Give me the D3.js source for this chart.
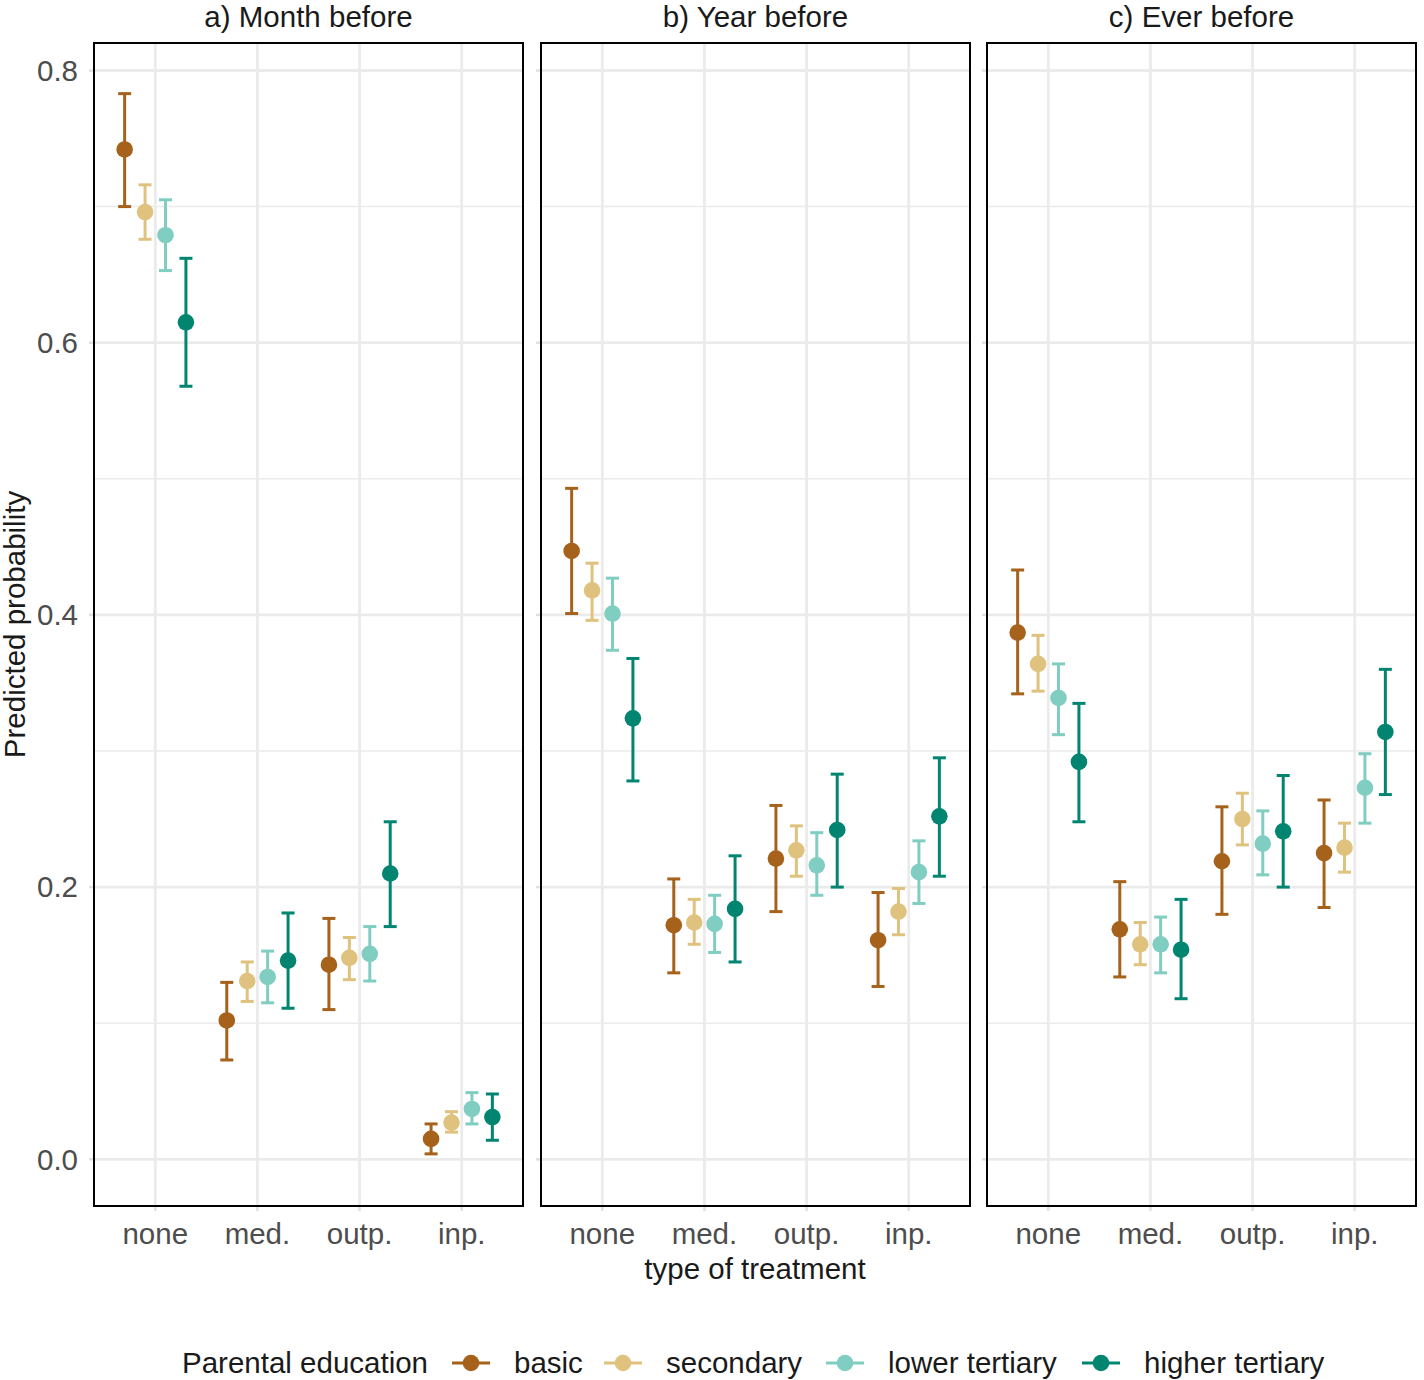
<!DOCTYPE html>
<html>
<head>
<meta charset="utf-8">
<script src="https://cdn.jsdelivr.net/npm/d3@7"></script>
<style>
  html, body { margin: 0; padding: 0; background: #ffffff; }
  svg text { font-family: "Liberation Sans", Arial, Helvetica, sans-serif; }
</style>
</head>
<body>
<svg id="chart" width="1424" height="1380"></svg>
<script>
// ---------------- data ----------------
const panelTitles = ["a) Month before", "b) Year before", "c) Ever before"];
const treatments = ["none", "med.", "outp.", "inp."];
const education = ["basic", "secondary", "lower tertiary", "higher tertiary"];
const eduColors = ["#A6611A", "#DFC27D", "#80CDC1", "#018571"];
const yTicks = [0.0, 0.2, 0.4, 0.6, 0.8];
const yMinorTicks = [0.1, 0.3, 0.5, 0.7];

// rows = education level, columns = treatment (none, med., outp., inp.)
const monthEst  = [[0.742, 0.102, 0.143, 0.015], [0.696, 0.131, 0.148, 0.027], [0.679, 0.134, 0.151, 0.037], [0.615, 0.146, 0.210, 0.031]];
const monthLow  = [[0.700, 0.073, 0.110, 0.004], [0.676, 0.116, 0.132, 0.020], [0.653, 0.115, 0.131, 0.026], [0.568, 0.111, 0.171, 0.014]];
const monthHigh = [[0.783, 0.130, 0.177, 0.026], [0.716, 0.145, 0.163, 0.035], [0.705, 0.153, 0.171, 0.049], [0.662, 0.181, 0.248, 0.048]];

const yearEst  = [[0.447, 0.172, 0.221, 0.161], [0.418, 0.174, 0.227, 0.182], [0.401, 0.173, 0.216, 0.211], [0.324, 0.184, 0.242, 0.252]];
const yearLow  = [[0.401, 0.137, 0.182, 0.127], [0.396, 0.158, 0.208, 0.165], [0.374, 0.152, 0.194, 0.188], [0.278, 0.145, 0.200, 0.208]];
const yearHigh = [[0.493, 0.206, 0.260, 0.196], [0.438, 0.191, 0.245, 0.199], [0.427, 0.194, 0.240, 0.234], [0.368, 0.223, 0.283, 0.295]];

const everEst  = [[0.387, 0.169, 0.219, 0.225], [0.364, 0.158, 0.250, 0.229], [0.339, 0.158, 0.232, 0.273], [0.292, 0.154, 0.241, 0.314]];
const everLow  = [[0.342, 0.134, 0.180, 0.185], [0.344, 0.143, 0.231, 0.211], [0.312, 0.137, 0.209, 0.247], [0.248, 0.118, 0.200, 0.268]];
const everHigh = [[0.433, 0.204, 0.259, 0.264], [0.385, 0.174, 0.269, 0.247], [0.364, 0.178, 0.256, 0.298], [0.335, 0.191, 0.282, 0.360]];

const panelEst  = [monthEst, yearEst, everEst];
const panelLow  = [monthLow, yearLow, everLow];
const panelHigh = [monthHigh, yearHigh, everHigh];

// ---------------- layout ----------------
const svg = d3.select("#chart");
const panelLefts = [94, 541, 987];
const panelWidth = 429;
const plotTop = 43, plotBottom = 1206;
const textColor = "#1A1A1A";
const tickTextColor = "#4D4D4D";
const gridColor = "#EBEBEB";
const fontSize = 29.5;
const barWidth = 3;
const pointR = 8.3;

const y = d3.scaleLinear().domain([-0.0343, 0.8202]).range([plotBottom, plotTop]);

panelTitles.forEach((title, p) => {
  const x0 = panelLefts[p], x1 = x0 + panelWidth;
  const x = d3.scalePoint().domain(treatments).range([x0, x1]).padding(0.6);
  const step = x.step();
  const dodge = d3.scaleBand().domain(education).range([-0.4 * step, 0.4 * step]);
  const g = svg.append("g");

  g.append("rect").attr("x", x0).attr("y", plotTop).attr("width", panelWidth).attr("height", plotBottom - plotTop).attr("fill", "#fff");

  // minor grid
  g.selectAll(".minor").data(yMinorTicks).enter().append("line")
    .attr("x1", x0).attr("x2", x1).attr("y1", d => y(d)).attr("y2", d => y(d))
    .attr("stroke", gridColor).attr("stroke-width", 1.5);
  // major grid
  g.selectAll(".major").data(yTicks).enter().append("line")
    .attr("x1", x0).attr("x2", x1).attr("y1", d => y(d)).attr("y2", d => y(d))
    .attr("stroke", gridColor).attr("stroke-width", 2.8);
  g.selectAll(".vgrid").data(treatments).enter().append("line")
    .attr("x1", d => x(d)).attr("x2", d => x(d)).attr("y1", plotTop).attr("y2", plotBottom)
    .attr("stroke", gridColor).attr("stroke-width", 2.8);

  // ticks (light)
  g.selectAll(".yt").data(yTicks).enter().append("line")
    .attr("x1", x0 - 5).attr("x2", x0).attr("y1", d => y(d)).attr("y2", d => y(d))
    .attr("stroke", "#E0E0E0").attr("stroke-width", 2.5);
  g.selectAll(".xt").data(treatments).enter().append("line")
    .attr("x1", d => x(d)).attr("x2", d => x(d)).attr("y1", plotBottom).attr("y2", plotBottom + 5)
    .attr("stroke", "#E0E0E0").attr("stroke-width", 2.5);

  // error bars & points
  const capHalf = 6.5;
  education.forEach((edu, e) => {
    const col = eduColors[e];
    treatments.forEach((t, k) => {
      const cx = x(t) + dodge(edu) + dodge.bandwidth() / 2;
      const lo = panelLow[p][e][k], hi = panelHigh[p][e][k];
      const eg = g.append("g").attr("stroke", col).attr("stroke-width", barWidth).attr("fill", "none");
      eg.append("line").attr("x1", cx).attr("x2", cx).attr("y1", y(lo)).attr("y2", y(hi));
      eg.append("line").attr("x1", cx - capHalf).attr("x2", cx + capHalf).attr("y1", y(lo)).attr("y2", y(lo));
      eg.append("line").attr("x1", cx - capHalf).attr("x2", cx + capHalf).attr("y1", y(hi)).attr("y2", y(hi));
    });
  });
  education.forEach((edu, e) => {
    const col = eduColors[e];
    treatments.forEach((t, k) => {
      const cx = x(t) + dodge(edu) + dodge.bandwidth() / 2;
      g.append("circle").attr("cx", cx).attr("cy", y(panelEst[p][e][k])).attr("r", pointR).attr("fill", col);
    });
  });

  // border
  g.append("rect").attr("x", x0).attr("y", plotTop).attr("width", panelWidth).attr("height", plotBottom - plotTop)
    .attr("fill", "none").attr("stroke", "#000").attr("stroke-width", 2);

  // strip title
  g.append("text").attr("x", (x0 + x1) / 2).attr("y", 27).attr("text-anchor", "middle")
    .attr("font-size", fontSize).attr("fill", textColor).text(title);

  // x tick labels
  g.selectAll(".xl").data(treatments).enter().append("text")
    .attr("x", d => x(d)).attr("y", 1244).attr("text-anchor", "middle")
    .attr("font-size", fontSize).attr("fill", tickTextColor).text(d => d);

  // y tick labels on first panel
  if (p === 0) {
    g.selectAll(".yl").data(yTicks).enter().append("text")
      .attr("x", 78).attr("y", d => y(d)).attr("dy", "0.35em").attr("text-anchor", "end")
      .attr("font-size", fontSize).attr("fill", tickTextColor).text(d => d3.format(".1f")(d));
  }
});

// axis titles
svg.append("text").attr("x", (panelLefts[0] + panelLefts[2] + panelWidth) / 2).attr("y", 1279)
  .attr("text-anchor", "middle").attr("font-size", fontSize).attr("fill", textColor).text("type of treatment");
svg.append("text").attr("transform", `translate(24.5, ${(plotTop + plotBottom) / 2}) rotate(-90)`)
  .attr("text-anchor", "middle").attr("font-size", fontSize).attr("fill", textColor).text("Predicted probability");

// legend
const legY = 1363;
svg.append("text").attr("x", 182).attr("y", legY).attr("dy", "0.35em")
  .attr("font-size", fontSize).attr("fill", textColor).text("Parental education");
const keyStarts = [452, 604, 826, 1082];
education.forEach((edu, e) => {
  const kx = keyStarts[e];
  svg.append("line").attr("x1", kx).attr("x2", kx + 38).attr("y1", legY).attr("y2", legY)
    .attr("stroke", eduColors[e]).attr("stroke-width", barWidth);
  svg.append("circle").attr("cx", kx + 19).attr("cy", legY).attr("r", pointR).attr("fill", eduColors[e]);
  svg.append("text").attr("x", kx + 62).attr("y", legY).attr("dy", "0.35em")
    .attr("font-size", fontSize).attr("fill", textColor).text(edu);
});
</script>
</body>
</html>
